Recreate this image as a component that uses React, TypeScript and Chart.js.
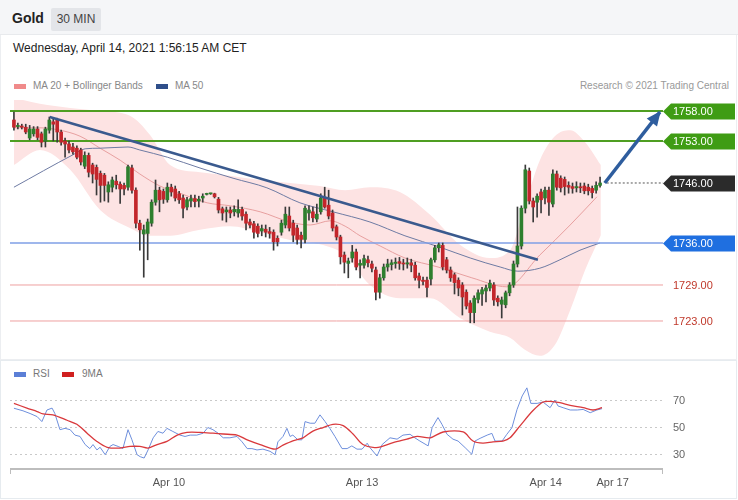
import React, { useEffect, useRef } from "react";
import { Chart, registerables } from "chart.js";

Chart.register(...registerables);

const FONT = '"Liberation Sans", Arial, Helvetica, sans-serif';

// ---- candles (30 min) ----
const opens = [
  1756.5, 1755.4, 1755.5, 1755.3, 1753.5, 1754.2, 1755.0, 1754.2, 1753.0, 1754.8,
  1756.2, 1756.5, 1754.5, 1753.0, 1752.5, 1752.0, 1751.8, 1751.5, 1748.8, 1750.6,
  1749.0, 1748.6, 1747.6, 1747.3, 1744.5, 1745.3, 1746.3, 1745.8, 1745.6, 1745.3,
  1748.5, 1744.8, 1739.3, 1737.5, 1737.6, 1739.3, 1742.8, 1744.8, 1744.6, 1743.2,
  1745.3, 1745.0, 1744.2, 1743.5, 1742.0, 1743.0, 1743.4, 1743.0, 1743.5, 1744.1,
  1744.2, 1744.2, 1743.3, 1741.7, 1741.2, 1741.5, 1741.2, 1741.0, 1741.6, 1740.8,
  1739.5, 1739.2, 1738.8, 1738.0, 1738.3, 1737.9, 1737.8, 1736.8, 1737.8, 1739.0,
  1740.5, 1739.3, 1738.5, 1737.3, 1736.6, 1741.0, 1741.2, 1740.0, 1741.2, 1743.5,
  1742.3, 1741.0, 1738.7, 1737.0, 1734.0, 1732.6, 1733.5, 1734.5, 1732.3, 1732.3,
  1733.2, 1732.5, 1731.5, 1727.8, 1730.2, 1732.0, 1732.4, 1732.6, 1732.9, 1732.6,
  1732.5, 1732.7, 1732.3, 1730.5, 1729.8, 1729.8, 1730.0, 1733.2, 1735.2, 1735.6,
  1733.2, 1731.5, 1730.7, 1729.8, 1729.0, 1727.8, 1726.0, 1724.4, 1726.6, 1727.5,
  1728.0, 1728.5, 1729.0, 1726.8, 1725.8, 1725.7, 1727.7, 1729.0, 1732.5, 1735.5,
  1741.8, 1748.0, 1743.0, 1742.8, 1744.5, 1743.5, 1744.8, 1742.5, 1747.5, 1746.8,
  1746.6, 1745.6, 1745.4, 1745.2, 1745.3, 1745.5, 1745.3, 1745.1, 1744.8, 1745.6,
];
const highs = [
  1757.8, 1756.0, 1755.8, 1755.8, 1755.6, 1755.4, 1755.4, 1754.5, 1755.3, 1757.0,
  1756.8, 1756.8, 1754.8, 1753.5, 1753.0, 1752.6, 1752.2, 1751.8, 1751.2, 1751.0,
  1749.3, 1749.0, 1748.0, 1747.6, 1746.2, 1747.0, 1747.3, 1746.2, 1746.0, 1749.0,
  1749.0, 1745.2, 1739.8, 1739.0, 1740.0, 1743.2, 1746.5, 1745.3, 1745.0, 1746.0,
  1745.8, 1745.5, 1744.6, 1744.0, 1743.6, 1744.0, 1744.0, 1743.8, 1744.2, 1744.3,
  1744.3, 1744.3, 1743.6, 1742.0, 1742.0, 1742.0, 1742.2, 1743.2, 1742.0, 1741.2,
  1740.0, 1739.6, 1739.2, 1739.0, 1739.0, 1738.6, 1738.2, 1737.2, 1739.8, 1742.0,
  1742.0, 1739.8, 1739.0, 1737.8, 1742.2, 1742.2, 1742.0, 1742.5, 1744.2, 1745.3,
  1744.8, 1741.5, 1739.0, 1737.3, 1734.5, 1733.5, 1735.6, 1735.0, 1733.2, 1734.0,
  1733.8, 1733.0, 1732.0, 1730.8, 1732.5, 1733.3, 1733.2, 1733.5, 1733.6, 1733.3,
  1733.5, 1733.3, 1732.8, 1731.0, 1730.3, 1730.3, 1733.5, 1735.6, 1736.0, 1736.0,
  1733.6, 1732.0, 1731.0, 1730.2, 1729.4, 1728.2, 1726.4, 1727.2, 1728.2, 1728.6,
  1729.0, 1729.8, 1729.4, 1727.2, 1727.0, 1728.0, 1729.4, 1733.0, 1742.0, 1742.2,
  1749.0, 1748.5, 1743.5, 1744.2, 1745.0, 1745.3, 1745.3, 1748.2, 1748.0, 1747.2,
  1747.0, 1746.2, 1746.0, 1746.2, 1746.0, 1746.0, 1745.8, 1745.5, 1746.2, 1747.0,
];
const lows = [
  1754.8, 1755.0, 1755.0, 1754.2, 1753.2, 1753.8, 1753.2, 1752.0, 1752.0, 1754.3,
  1753.0, 1752.8, 1752.3, 1750.3, 1751.0, 1750.8, 1750.0, 1749.0, 1748.4, 1747.0,
  1746.0, 1744.0, 1742.8, 1743.0, 1742.8, 1744.5, 1745.0, 1742.6, 1744.0, 1744.8,
  1744.3, 1738.5, 1734.8, 1730.3, 1733.2, 1738.8, 1742.3, 1741.2, 1742.6, 1742.8,
  1743.8, 1743.0, 1742.6, 1740.2, 1741.5, 1742.0, 1742.0, 1742.0, 1742.8, 1744.0,
  1744.1, 1743.5, 1741.0, 1739.8, 1739.5, 1740.2, 1740.5, 1740.3, 1739.8, 1738.2,
  1738.5, 1736.8, 1737.0, 1737.2, 1737.0, 1736.8, 1734.8, 1735.5, 1737.3, 1738.5,
  1738.0, 1736.2, 1735.8, 1735.2, 1736.0, 1739.8, 1739.5, 1739.5, 1740.8, 1741.8,
  1740.0, 1738.0, 1736.5, 1732.5, 1731.0, 1730.2, 1732.8, 1731.5, 1730.2, 1731.8,
  1732.0, 1731.2, 1726.5, 1726.8, 1729.8, 1731.3, 1731.5, 1731.8, 1731.6, 1731.5,
  1731.8, 1731.2, 1729.8, 1728.5, 1729.0, 1727.0, 1729.0, 1732.8, 1734.5, 1731.5,
  1731.0, 1729.6, 1727.5, 1727.2, 1724.0, 1725.0, 1722.7, 1722.7, 1726.0, 1725.6,
  1726.2, 1728.0, 1725.6, 1725.5, 1723.5, 1725.2, 1727.2, 1728.6, 1732.0, 1735.0,
  1741.0, 1742.5, 1739.5, 1740.3, 1741.0, 1742.5, 1740.6, 1742.0, 1744.8, 1744.5,
  1744.0, 1744.3, 1744.3, 1744.5, 1744.4, 1744.2, 1744.0, 1743.5, 1744.3, 1745.3,
];
const closes = [
  1755.3, 1755.6, 1755.3, 1754.5, 1755.0, 1755.0, 1753.6, 1752.8, 1755.0, 1756.5,
  1755.8, 1754.5, 1752.8, 1752.5, 1751.5, 1751.2, 1750.3, 1749.5, 1750.6, 1747.8,
  1747.5, 1746.6, 1745.6, 1745.6, 1745.7, 1746.5, 1745.7, 1745.0, 1745.0, 1748.7,
  1744.8, 1739.3, 1738.2, 1738.2, 1739.5, 1742.8, 1744.8, 1743.2, 1743.3, 1745.3,
  1744.5, 1743.5, 1743.2, 1741.8, 1743.2, 1743.4, 1742.9, 1743.3, 1743.8, 1744.2,
  1744.2, 1743.7, 1741.5, 1741.0, 1741.5, 1741.0, 1741.6, 1741.6, 1740.5, 1739.3,
  1739.0, 1737.8, 1737.6, 1738.4, 1737.8, 1737.6, 1736.2, 1736.2, 1739.3, 1740.8,
  1738.5, 1737.3, 1736.6, 1736.6, 1741.8, 1741.5, 1740.2, 1740.8, 1743.5, 1742.0,
  1740.5, 1738.5, 1737.0, 1733.7, 1732.8, 1733.0, 1734.5, 1732.0, 1732.6, 1733.4,
  1732.7, 1731.8, 1727.8, 1730.2, 1732.0, 1732.5, 1732.7, 1732.8, 1732.6, 1732.5,
  1732.7, 1732.3, 1730.2, 1729.8, 1729.6, 1728.6, 1733.2, 1735.2, 1735.7, 1732.0,
  1731.5, 1730.2, 1729.4, 1728.5, 1727.0, 1725.5, 1724.4, 1726.8, 1727.7, 1728.2,
  1728.5, 1729.3, 1726.5, 1726.2, 1726.5, 1727.7, 1729.0, 1732.5, 1735.5, 1741.8,
  1748.2, 1743.0, 1742.0, 1743.8, 1743.2, 1744.8, 1742.8, 1747.5, 1745.3, 1745.2,
  1745.4, 1745.3, 1745.1, 1745.4, 1745.2, 1744.7, 1744.7, 1744.4, 1745.6, 1746.0,
];

// ---- Bollinger bands (MA 20) ----
const bandIdx = [0, 6.6, 14.3, 21.9, 29.5, 34.6, 39.7, 47.3, 54.9, 62.6, 70.2, 77.8, 84.2, 90.5, 98.1, 105.8, 113.4, 121.0, 126.1, 129.9, 133.7, 137.5, 141.4, 145.2, 149.2];
const bandUpper = [1760.2, 1759.2, 1758.5, 1758.0, 1757.2, 1754.0, 1749.0, 1747.8, 1747.2, 1746.5, 1746.0, 1745.5, 1744.8, 1745.3, 1744.5, 1740.7, 1735.7, 1733.5, 1734.8, 1742.3, 1749.8, 1753.8, 1754.8, 1752.8, 1749.0];
const bandLower = [1749.0, 1751.5, 1748.2, 1741.5, 1738.5, 1737.2, 1737.2, 1738.2, 1738.8, 1737.8, 1736.5, 1735.8, 1734.0, 1729.0, 1726.8, 1726.8, 1723.5, 1721.2, 1720.2, 1718.2, 1717.2, 1719.0, 1724.8, 1731.5, 1737.3];

const ma20Idx = [0, 6.6, 11.7, 16.8, 21.9, 27, 32, 37.1, 42.2, 49.1, 55, 62.6, 70.2, 75.3, 80.4, 84.2, 88, 93.1, 99.4, 107.8, 116.4, 125.3, 133.7, 141.4, 148.2];
const ma20Val = [1755.2, 1755.2, 1754.8, 1753.8, 1751.8, 1749.8, 1747.5, 1745.5, 1744.3, 1742.7, 1742.2, 1741.2, 1739.5, 1739.0, 1739.7, 1738.8, 1737.2, 1735.5, 1733.5, 1732.0, 1730.2, 1728.7, 1734.0, 1739.0, 1743.7];

const ma50Idx = [0, 15, 18.1, 21.9, 29, 32, 39, 47.3, 55.7, 64.3, 72.7, 81.1, 90.5, 99.4, 108.3, 116, 123.6, 128.1, 133.7, 138.8, 143.9, 149];
const ma50Val = [1745.3, 1750.7, 1751.7, 1751.8, 1752.0, 1751.5, 1750.3, 1748.5, 1746.8, 1745.2, 1742.7, 1741.2, 1739.5, 1737.2, 1735.3, 1733.5, 1732.0, 1731.3, 1731.8, 1733.2, 1734.8, 1736.0];

// ---- levels, trend line, arrow ----
const levelValues = [1758, 1753, 1746, 1736, 1729, 1723];
const levelLabels = ["1758.00", "1753.00", "1746.00", "1736.00", "1729.00", "1723.00"];
const trendIdx = [9.1, 133.2];
const trendVal = [1757.0, 1733.2];
const arrowIdx = [150.2, 164.2];
const arrowVal = [1746.0, 1757.8];
const lastIdx = [150.7, 165];

// ---- RSI ----
const rsiIdx = [0, 2.3, 4.1, 5.9, 7.1, 8.4, 9.7, 10.4, 11.7, 13, 14.3, 15.5, 16.8, 18.1, 19.3, 20.1, 21.1, 21.9, 23.2, 24.4, 25.2, 26.5, 27.7, 29, 30, 31.3, 32.1, 33.1, 34.1, 35.4, 36.6, 37.9, 38.9, 40.4, 42.2, 43.5, 44.8, 46.5, 48.1, 49.3, 50.6, 51.9, 53.2, 54.9, 56.7, 58, 59.3, 60.5, 61.8, 63.3, 65.1, 66.4, 67.1, 68.4, 69.4, 70.2, 70.9, 72.2, 73.2, 74, 75.3, 76.5, 77.8, 79.1, 80.3, 81.6, 83.4, 84.7, 85.9, 87.2, 88.5, 89.8, 90.5, 92.3, 93.6, 95.6, 97.4, 98.9, 100.7, 101.9, 103.2, 105.3, 106.3, 107.8, 108.8, 110.1, 111.6, 112.9, 114.7, 116.4, 117.2, 118.5, 120.3, 121.5, 122.3, 124.1, 125.3, 126.6, 127.9, 129.2, 130.4, 131.4, 133, 134.5, 136.3, 137.5, 138.3, 139.6, 141.4, 143.2, 144.7, 146.5, 148.2, 149.5];
const rsiVal = [63.9, 62, 60, 57.7, 54, 62.6, 64, 60, 48, 49, 48, 44, 43, 37, 34, 37, 33, 35, 29.5, 35.6, 37, 35.6, 34, 48, 40.5, 29.5, 28, 27, 33, 42, 46.7, 45.4, 49, 46.7, 44, 43, 44, 44, 45.4, 49.6, 48, 45.4, 42, 42, 43, 39, 34, 34, 33, 33.6, 32, 29.5, 39, 43, 49, 43, 44, 40.5, 40.5, 54, 52.8, 52.8, 59, 54, 49, 43, 34, 34, 36, 33.6, 33.6, 38, 34.7, 28.5, 37, 42, 41, 44, 44.6, 42, 39.6, 36, 49.5, 57, 52, 44.6, 41, 39.6, 34.7, 29.8, 39.6, 41.6, 44, 45.3, 39.6, 39.6, 44.6, 49.5, 63, 73, 79, 67.5, 67.5, 68.5, 64.3, 70, 65.6, 64.3, 62.6, 62.6, 63, 60.6, 62.6, 63.6];
const maIdx = [0, 3.3, 5.9, 7.4, 9.9, 13.5, 16, 18.6, 21.1, 23.7, 27, 29.5, 32, 34.1, 36.4, 38.9, 41.5, 44, 47.3, 50.6, 53.2, 56.7, 59.3, 62.6, 66.4, 68.4, 70.9, 73.5, 76, 78.6, 81.1, 83.7, 86.2, 88.7, 92.1, 96.4, 99.9, 102.5, 105.8, 109.1, 114.2, 116.7, 119.2, 121.8, 124.3, 126.1, 128.6, 131.9, 134.5, 136.3, 138.8, 141.4, 144.7, 147.2, 149.5];
const maVal = [67.5, 64, 61.4, 59.7, 59, 55, 52, 45.4, 39.3, 35, 34.4, 35.6, 35.6, 34.4, 37, 39.3, 44, 46, 46, 45.4, 44.8, 44, 40.5, 37, 33.6, 36.6, 39.8, 42, 47, 49.6, 52, 51, 44.8, 37, 34.7, 38.4, 41, 43, 42, 46.3, 46.3, 39.6, 38, 39, 39.6, 42, 50.7, 62, 68.5, 69, 68, 66, 64.3, 62.6, 64.3];
const rsiTicks = [30, 50, 70];
const timeLabels = ["Apr 10", "Apr 13", "Apr 14", "Apr 17"];
const timeIdx = [39.4, 88.5, 135.2, 152.2];

// ---- styling ----
const X_MIN = -1;
const X_MAX = 165;
const UP = "#2e7f2e";
const DOWN = "#c3262b";
const WICK = "#3a3a3a";
const levelStyle: Record<number, { line: string; width: number; box: string | null; text: string }> = {
  0: { line: "#4f9e22", width: 2, box: "#3f9c14", text: "#ffffff" },
  1: { line: "#4f9e22", width: 2, box: "#3f9c14", text: "#ffffff" },
  2: { line: "#555555", width: 1, box: "#2b2b2b", text: "#ffffff" },
  3: { line: "#7f9fe6", width: 1.5, box: "#1f6fe0", text: "#ffffff" },
  4: { line: "#eea0a0", width: 1, box: null, text: "#c0392b" },
  5: { line: "#eea0a0", width: 1, box: null, text: "#c0392b" },
};
const ARROW = "#2e5d9e";

const pts = (xs: number[], ys: number[]) => xs.map((x, i) => ({ x, y: ys[i] }));

const mainPlugin = {
  id: "mainDecor",
  afterDatasetsDraw(chart: any) {
    const { ctx, chartArea } = chart;
    const xs = chart.scales.x;
    const ys = chart.scales.y;
    ctx.save();
    // arrow head
    const x0 = xs.getPixelForValue(arrowIdx[0]);
    const y0 = ys.getPixelForValue(arrowVal[0]);
    const x1 = xs.getPixelForValue(arrowIdx[1]);
    const y1 = ys.getPixelForValue(arrowVal[1]);
    const a = Math.atan2(y1 - y0, x1 - x0);
    const L = 13;
    const W = 6.5;
    const bx = x1 - L * Math.cos(a);
    const by = y1 - L * Math.sin(a);
    ctx.fillStyle = ARROW;
    ctx.beginPath();
    ctx.moveTo(x1 + 1.5 * Math.cos(a), y1 + 1.5 * Math.sin(a));
    ctx.lineTo(bx + W * Math.sin(a), by - W * Math.cos(a));
    ctx.lineTo(bx - W * Math.sin(a), by + W * Math.cos(a));
    ctx.closePath();
    ctx.fill();

    // level labels
    const left = chartArea.right;
    ctx.font = `11px ${FONT}`;
    ctx.textBaseline = "middle";
    levelValues.forEach((v, i) => {
      const y = Math.round(ys.getPixelForValue(v)) + 0.5;
      const st = levelStyle[i];
      if (st.box) {
        ctx.fillStyle = st.box;
        ctx.beginPath();
        ctx.moveTo(left, y);
        ctx.lineTo(left + 8, y - 8);
        ctx.lineTo(735, y - 8);
        ctx.lineTo(735, y + 8);
        ctx.lineTo(left + 8, y + 8);
        ctx.closePath();
        ctx.fill();
      }
      ctx.fillStyle = st.text;
      ctx.textAlign = "left";
      ctx.fillText(levelLabels[i], left + 10, y + 0.5);
    });
    ctx.restore();
  },
};

const rsiPlugin = {
  id: "rsiDecor",
  beforeDatasetsDraw(chart: any) {
    const { ctx, chartArea } = chart;
    const xs = chart.scales.x;
    const ys = chart.scales.y;
    ctx.save();
    ctx.strokeStyle = "#c9c9c9";
    ctx.lineWidth = 1;
    ctx.setLineDash([2, 3]);
    ctx.font = `11px ${FONT}`;
    ctx.fillStyle = "#666";
    ctx.textBaseline = "middle";
    ctx.textAlign = "left";
    rsiTicks.forEach((t) => {
      const y = Math.round(ys.getPixelForValue(t)) + 0.5;
      ctx.beginPath();
      ctx.moveTo(chartArea.left, y);
      ctx.lineTo(chartArea.right, y);
      ctx.stroke();
      ctx.fillText(String(t), chartArea.right + 10, y);
    });
    ctx.setLineDash([]);
    // axis line
    const ay = chartArea.bottom;
    ctx.strokeStyle = "#bdbdbd";
    ctx.lineWidth = 2;
    ctx.beginPath();
    ctx.moveTo(chartArea.left, ay);
    ctx.lineTo(chartArea.right, ay);
    ctx.stroke();
    ctx.lineWidth = 1;
    ctx.beginPath();
    ctx.moveTo(chartArea.left + 0.5, ay);
    ctx.lineTo(chartArea.left + 0.5, ay + 5);
    ctx.moveTo(chartArea.right - 0.5, ay);
    ctx.lineTo(chartArea.right - 0.5, ay + 5);
    ctx.stroke();
    ctx.fillStyle = "#555";
    ctx.textAlign = "center";
    timeLabels.forEach((lab, i) => {
      ctx.fillText(lab, xs.getPixelForValue(timeIdx[i]), ay + 14);
    });
    ctx.restore();
  },
};

function mainConfig(): any {
  const levelSets = levelValues.map((v, i) =>
    i === 2
      ? {
          type: "line",
          data: pts(lastIdx, [v, v]),
          borderColor: levelStyle[i].line,
          borderWidth: 1,
          borderDash: [2, 2],
          pointRadius: 0,
          order: 3,
        }
      : {
          type: "line",
          data: pts([X_MIN, X_MAX], [v, v]),
          borderColor: levelStyle[i].line,
          borderWidth: levelStyle[i].width,
          pointRadius: 0,
          order: 12,
        }
  );
  return {
    type: "line",
    data: {
      datasets: [
        {
          type: "line",
          data: pts(bandIdx, bandUpper),
          borderWidth: 0,
          borderColor: "rgba(0,0,0,0)",
          backgroundColor: "#fde3e3",
          fill: "+1",
          pointRadius: 0,
          cubicInterpolationMode: "monotone",
          order: 30,
        },
        {
          type: "line",
          data: pts(bandIdx, bandLower),
          borderWidth: 0,
          borderColor: "rgba(0,0,0,0)",
          fill: false,
          pointRadius: 0,
          cubicInterpolationMode: "monotone",
          order: 29,
        },
        {
          type: "line",
          data: pts(ma50Idx, ma50Val),
          borderColor: "#6e7ba3",
          borderWidth: 1,
          pointRadius: 0,
          cubicInterpolationMode: "monotone",
          order: 20,
        },
        {
          type: "line",
          data: pts(ma20Idx, ma20Val),
          borderColor: "#e8a0a0",
          borderWidth: 1,
          pointRadius: 0,
          cubicInterpolationMode: "monotone",
          order: 20,
        },
        ...levelSets,
        {
          type: "bar",
          data: lows.map((l, i) => ({ x: i, y: [l, highs[i]] })),
          backgroundColor: WICK,
          barThickness: 1,
          grouped: false,
          order: 6,
        },
        {
          type: "bar",
          data: opens.map((o, i) => ({ x: i, y: [o, closes[i]] })),
          backgroundColor: opens.map((o, i) => (closes[i] >= o ? UP : DOWN)),
          barThickness: 3,
          minBarLength: 1,
          grouped: false,
          order: 5,
        },
        {
          type: "line",
          data: pts(trendIdx, trendVal),
          borderColor: "#3a5a8e",
          borderWidth: 2.5,
          pointRadius: 0,
          order: 2,
        },
        {
          type: "line",
          data: pts(arrowIdx, arrowVal),
          borderColor: ARROW,
          borderWidth: 3.5,
          pointRadius: 0,
          clip: false,
          order: 1,
        },
      ],
    },
    options: {
      responsive: false,
      animation: false,
      events: [],
      layout: { padding: { left: 10, right: 75, top: 5, bottom: 2 } },
      scales: {
        x: { type: "linear", min: X_MIN, max: X_MAX, display: false, offset: false },
        y: { type: "linear", min: 1716.833, max: 1759.833, display: false },
      },
      plugins: { legend: { display: false }, tooltip: { enabled: false } },
    },
    plugins: [mainPlugin],
  };
}

function rsiConfig(): any {
  return {
    type: "line",
    data: {
      datasets: [
        {
          data: pts(rsiIdx, rsiVal),
          borderColor: "#6e8fdc",
          borderWidth: 1,
          pointRadius: 0,
          tension: 0,
          order: 2,
        },
        {
          data: pts(maIdx, maVal),
          borderColor: "#d9393c",
          borderWidth: 1.3,
          pointRadius: 0,
          tension: 0.3,
          order: 1,
        },
      ],
    },
    options: {
      responsive: false,
      animation: false,
      events: [],
      layout: { padding: { left: 10, right: 75, top: 18, bottom: 31 } },
      scales: {
        x: { type: "linear", min: X_MIN, max: X_MAX, display: false },
        y: { type: "linear", min: 18.889, max: 84.815, display: false },
      },
      plugins: { legend: { display: false }, tooltip: { enabled: false } },
    },
    plugins: [rsiPlugin],
  };
}

export default function App() {
  const mainRef = useRef<HTMLCanvasElement>(null);
  const rsiRef = useRef<HTMLCanvasElement>(null);

  useEffect(() => {
    const m = new Chart(mainRef.current as HTMLCanvasElement, mainConfig());
    const r = new Chart(rsiRef.current as HTMLCanvasElement, rsiConfig());
    return () => {
      m.destroy();
      r.destroy();
    };
  }, []);

  const abs = (s: any) => ({ position: "absolute", ...s });

  return (
    <div style={abs({ left: 0, top: 0, width: 738, height: 500, background: "#fff", fontFamily: FONT, overflow: "hidden" })}>
      <div style={abs({ left: 0, top: 0, width: 738, height: 35, background: "#f5f6f8", borderBottom: "1px solid #e8eaed", boxSizing: "border-box" })} />
      <div style={abs({ left: 12, top: 10, fontSize: 14, fontWeight: "bold", color: "#222", lineHeight: "16px" })}>Gold</div>
      <div style={abs({ left: 51, top: 8, width: 50, height: 23, background: "#e3e5e9", borderRadius: 2, fontSize: 12, color: "#444", lineHeight: "23px", textAlign: "center" })}>30 MIN</div>
      <div style={abs({ left: 0, top: 35, width: 737, height: 325, border: "1px solid #eceef1", borderTop: "none", boxSizing: "border-box" })} />
      <div style={abs({ left: 13, top: 41, fontSize: 12, color: "#222", lineHeight: "14px" })}>Wednesday, April 14, 2021 1:56:15 AM CET</div>
      <div style={abs({ left: 14, top: 84, width: 12, height: 5, background: "#f08a8a" })} />
      <div style={abs({ left: 33, top: 80, fontSize: 10, color: "#888", lineHeight: "12px" })}>MA 20 + Bollinger Bands</div>
      <div style={abs({ left: 156, top: 84, width: 12, height: 5, background: "#2f4f8a" })} />
      <div style={abs({ left: 175, top: 80, fontSize: 10, color: "#888", lineHeight: "12px" })}>MA 50</div>
      <div style={abs({ right: 9, top: 80, fontSize: 10, color: "#999", lineHeight: "12px" })}>Research © 2021 Trading Central</div>
      <canvas ref={mainRef} width={738} height={265} style={abs({ left: 0, top: 95, width: 738, height: 265 })} />
      <div style={abs({ left: 0, top: 360, width: 737, height: 139, border: "1px solid #e6ebef", boxSizing: "border-box" })} />
      <div style={abs({ left: 14, top: 372, width: 12, height: 5, background: "#5b7fd6" })} />
      <div style={abs({ left: 33, top: 368, fontSize: 10, color: "#777", lineHeight: "12px" })}>RSI</div>
      <div style={abs({ left: 62, top: 372, width: 12, height: 5, background: "#d0201f" })} />
      <div style={abs({ left: 82, top: 368, fontSize: 10, color: "#777", lineHeight: "12px" })}>9MA</div>
      <canvas ref={rsiRef} width={738} height={138} style={abs({ left: 0, top: 362, width: 738, height: 138 })} />
    </div>
  );
}
